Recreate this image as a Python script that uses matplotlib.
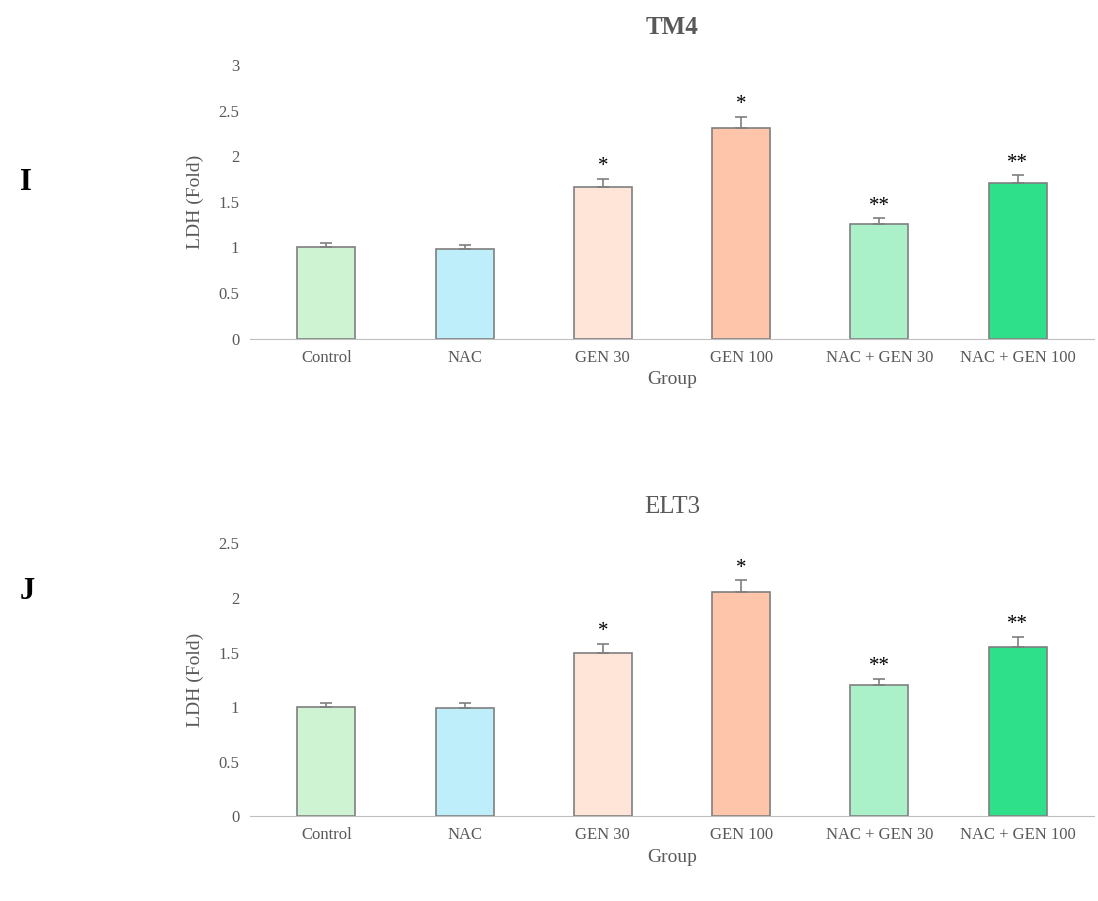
import matplotlib
matplotlib.use("Agg")
import matplotlib.pyplot as plt
import numpy as np

groups = ["Control", "NAC", "GEN 30", "GEN 100", "NAC + GEN 30", "NAC + GEN 100"]
colors = ["#CDF3D2", "#BFEEFB", "#FFE4D8", "#FFC5AA", "#AAF1C9", "#2EE08A"]

tm4_vals = [1.00, 0.98, 1.66, 2.31, 1.26, 1.71]
tm4_err = [0.05, 0.05, 0.09, 0.12, 0.06, 0.08]
elt3_vals = [1.00, 0.99, 1.50, 2.05, 1.20, 1.55]
elt3_err = [0.04, 0.05, 0.08, 0.11, 0.06, 0.09]
stars = ["", "", "*", "*", "**", "**"]

plt.rcParams["font.family"] = ["Liberation Serif", "DejaVu Serif"]

fig = plt.figure(figsize=(10.98, 9.01), dpi=100)
fig.patch.set_facecolor("white")


def panel(rect, vals, errs, title, letter, ymax, step, letter_y):
    ax = fig.add_axes(rect)
    x = np.arange(len(groups))
    ax.bar(x, vals, width=0.42, color=colors, edgecolor="#7f7f7f", linewidth=1.2, zorder=2)
    ax.errorbar(x, vals, yerr=[np.zeros(len(errs)), errs], fmt="none",
                ecolor="#7f7f7f", elinewidth=1.2, capsize=4, capthick=1.2, zorder=3)
    for xi, v, e, s in zip(x, vals, errs, stars):
        if s:
            ax.text(xi, v + e + ymax * 0.01, s, ha="center", va="bottom",
                    fontsize=15, color="black")
    ax.set_xlim(-0.55, len(groups) - 0.45)
    ax.set_ylim(0, ymax)
    ax.set_yticks(np.arange(0, ymax + 1e-9, step))
    ax.set_yticklabels([f"{t:g}" for t in np.arange(0, ymax + 1e-9, step)])
    ax.set_xticks(x)
    ax.set_xticklabels(groups)
    for sp in ("top", "right", "left"):
        ax.spines[sp].set_visible(False)
    ax.spines["bottom"].set_color("#bfbfbf")
    ax.tick_params(axis="both", length=0, labelsize=12, colors="#595959", pad=8)
    ax.set_xlabel("Group", fontsize=14, color="#595959", labelpad=4)
    ax.set_ylabel("LDH (Fold)", fontsize=14, color="#595959", labelpad=10)
    ax.set_title(title, fontsize=18, color="#595959", fontweight="bold" if title == "TM4" else "normal", pad=22)
    fig.text(0.018, letter_y, letter, fontsize=22, fontweight="bold", ha="left", va="center")
    return ax


panel([0.228, 0.624, 0.768, 0.304], tm4_vals, tm4_err, "TM4", "I", 3, 0.5, 0.797)
panel([0.228, 0.094, 0.768, 0.303], elt3_vals, elt3_err, "ELT3", "J", 2.5, 0.5, 0.343)

fig.savefig("out.png", dpi=100, facecolor="white")
